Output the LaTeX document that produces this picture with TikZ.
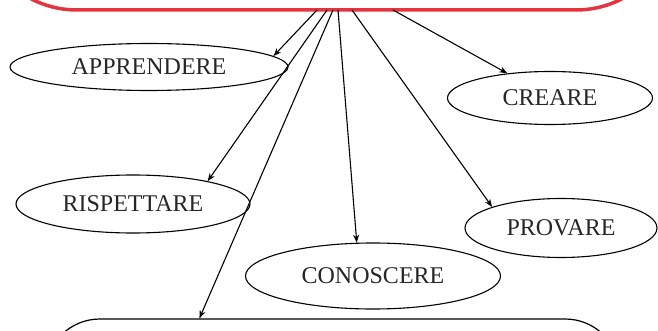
\documentclass[tikz,border=0pt]{standalone}
\usepackage{fontspec}
\setmainfont{Liberation Serif}
\usetikzlibrary{shapes.geometric,arrows.meta}
\definecolor{boxred}{RGB}{228,52,64}
\begin{document}
\begin{tikzpicture}[x=1pt,y=-1pt,
  oval/.style={ellipse,draw=black,line width=1.1pt,inner sep=0pt,
    font=\fontsize{24}{28}\selectfont,text=black!85},
  conn/.style={line width=1.1pt,-{Stealth[length=8pt,width=6pt]}},
  redbox/.style={rectangle,draw=boxred,line width=3.5pt,rounded corners=100pt},
  bigbox/.style={rectangle,draw=black,line width=1.2pt,rounded corners=55pt}]
\useasboundingbox (0,0) rectangle (658,331);
\clip (0,0) rectangle (658,331);
\fill[white] (0,0) rectangle (658,331);
% top red box (mostly outside the picture)
\node[redbox,minimum width=699pt,minimum height=160pt] (top) at (326.5,-70) {};
% bottom box (mostly outside the picture)
\node[bigbox,minimum width=575pt,minimum height=160pt] (bot) at (332.5,399) {};
% ellipses
\node[oval,minimum width=278pt,minimum height=47pt] (app) at (149,67) {APPRENDERE};
\node[oval,minimum width=205pt,minimum height=53pt] (cre) at (550,98) {CREARE};
\node[oval,minimum width=234pt,minimum height=58pt] (ris) at (133,204) {RISPETTARE};
\node[oval,minimum width=192pt,minimum height=59pt] (pro) at (561,228) {PROVARE};
\node[oval,minimum width=255pt,minimum height=66pt] (con) at (373,276) {CONOSCERE};
% start points on the red box
\coordinate (sA) at (317,10);
\coordinate (sR) at (327,10);
\coordinate (sB) at (333,10);
\coordinate (sC) at (338,10);
\coordinate (sP) at (352,10);
\coordinate (sE) at (393,10);
% connectors
\draw[conn] (sA) -- (app.5);
\draw[conn] (sR) -- (ris.17);
\draw[conn] (sB) -- ([xshift=155pt]bot.north west);
\draw[conn] (sC) -- (con.116);
\draw[conn] (sP) -- (pro.163);
\draw[conn] (sE) -- (cre.150);
\end{tikzpicture}
\end{document}
